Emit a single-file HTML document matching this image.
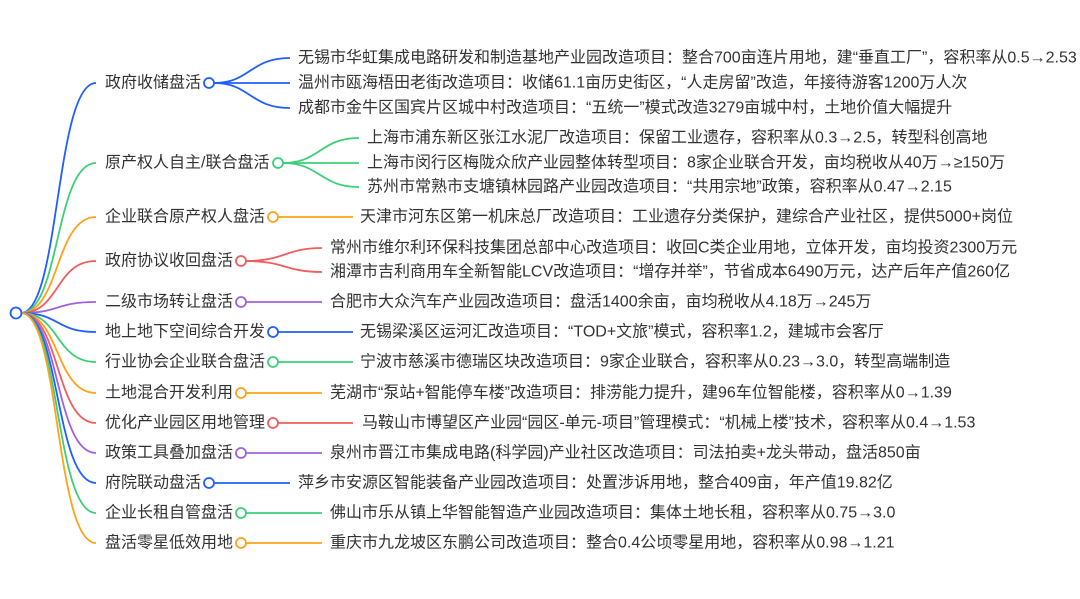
<!DOCTYPE html>
<html><head><meta charset="utf-8"><style>
html,body{margin:0;padding:0;background:#fff;width:1080px;height:599px;overflow:hidden}
svg text{font-family:"Liberation Sans","Noto Sans CJK SC",sans-serif;font-size:16px;fill:#333;dominant-baseline:central}
</style></head><body>
<svg width="1080" height="599" viewBox="0 0 1080 599" xmlns="http://www.w3.org/2000/svg">
<g fill="none" stroke-width="1.8">
<path d="M21 313 C60 313,55 83,96 83" stroke="#1f5eff"/>
<path d="M21 313 C60 313,55 163,96 163" stroke="#3ccf78"/>
<path d="M21 313 C60 313,55 217,96 217" stroke="#ffa21a"/>
<path d="M21 313 C60 313,55 261,96 261" stroke="#f05d5d"/>
<path d="M21 313 C60 313,55 302,96 302" stroke="#a061e0"/>
<path d="M21 313 C60 313,55 332,96 332" stroke="#1f5eff"/>
<path d="M21 313 C60 313,55 362,96 362" stroke="#3ccf78"/>
<path d="M21 313 C60 313,55 393,96 393" stroke="#ffa21a"/>
<path d="M21 313 C60 313,55 423,96 423" stroke="#f05d5d"/>
<path d="M21 313 C60 313,55 453,96 453" stroke="#a061e0"/>
<path d="M21 313 C60 313,55 483,96 483" stroke="#1f5eff"/>
<path d="M21 313 C60 313,55 513,96 513" stroke="#3ccf78"/>
<path d="M21 313 C60 313,55 543,96 543" stroke="#ffa21a"/>
<path d="M214 83 C250 83,250 58,290 58" stroke="#1f5eff"/>
<path d="M214 83 L290 83" stroke="#1f5eff"/>
<path d="M214 83 C250 83,250 108,290 108" stroke="#1f5eff"/>
<path d="M283 163 C320 163,320 138,359 138" stroke="#3ccf78"/>
<path d="M283 163 L359 163" stroke="#3ccf78"/>
<path d="M283 163 C320 163,320 187,359 187" stroke="#3ccf78"/>
<path d="M278 217 L353 217" stroke="#ffa21a"/>
<path d="M246 261 C285 261,285 248,322 248" stroke="#f05d5d"/>
<path d="M246 261 C285 261,285 272,322 272" stroke="#f05d5d"/>
<path d="M246 302 L322 302" stroke="#a061e0"/>
<path d="M278 332 L353 332" stroke="#1f5eff"/>
<path d="M278 362 L353 362" stroke="#3ccf78"/>
<path d="M246 393 L322 393" stroke="#ffa21a"/>
<path d="M278 423 L353 423" stroke="#f05d5d"/>
<path d="M246 453 L322 453" stroke="#a061e0"/>
<path d="M214 483 L290 483" stroke="#1f5eff"/>
<path d="M246 513 L322 513" stroke="#3ccf78"/>
<path d="M246 543 L322 543" stroke="#ffa21a"/>
</g>
<g fill="#fff" stroke-width="1.8">
<circle cx="16" cy="313" r="5.5" stroke="#1f5eff"/>
<circle cx="209" cy="83" r="5" stroke="#1f5eff"/>
<circle cx="278" cy="163" r="5" stroke="#3ccf78"/>
<circle cx="273" cy="217" r="5" stroke="#ffa21a"/>
<circle cx="241" cy="261" r="5" stroke="#f05d5d"/>
<circle cx="241" cy="302" r="5" stroke="#a061e0"/>
<circle cx="273" cy="332" r="5" stroke="#1f5eff"/>
<circle cx="273" cy="362" r="5" stroke="#3ccf78"/>
<circle cx="241" cy="393" r="5" stroke="#ffa21a"/>
<circle cx="273" cy="423" r="5" stroke="#f05d5d"/>
<circle cx="241" cy="453" r="5" stroke="#a061e0"/>
<circle cx="209" cy="483" r="5" stroke="#1f5eff"/>
<circle cx="241" cy="513" r="5" stroke="#3ccf78"/>
<circle cx="241" cy="543" r="5" stroke="#ffa21a"/>
</g>
<g>
<text x="105" y="83">政府收储盘活</text>
<text x="105" y="163">原产权人自主/联合盘活</text>
<text x="105" y="217">企业联合原产权人盘活</text>
<text x="105" y="261">政府协议收回盘活</text>
<text x="105" y="302">二级市场转让盘活</text>
<text x="105" y="332">地上地下空间综合开发</text>
<text x="105" y="362">行业协会企业联合盘活</text>
<text x="105" y="393">土地混合开发利用</text>
<text x="105" y="423">优化产业园区用地管理</text>
<text x="105" y="453">政策工具叠加盘活</text>
<text x="105" y="483">府院联动盘活</text>
<text x="105" y="513">企业长租自管盘活</text>
<text x="105" y="543">盘活零星低效用地</text>

<text x="298" y="58">无锡市华虹集成电路研发和制造基地产业园改造项目：整合700亩连片用地，建“垂直工厂”，容积率从0.5→2.53</text>
<text x="298" y="83">温州市瓯海梧田老街改造项目：收储61.1亩历史街区，“人走房留”改造，年接待游客1200万人次</text>
<text x="298" y="108">成都市金牛区国宾片区城中村改造项目：“五统一”模式改造3279亩城中村，土地价值大幅提升</text>
<text x="367" y="138">上海市浦东新区张江水泥厂改造项目：保留工业遗存，容积率从0.3→2.5，转型科创高地</text>
<text x="367" y="163">上海市闵行区梅陇众欣产业园整体转型项目：8家企业联合开发，亩均税收从40万→≥150万</text>
<text x="367" y="187">苏州市常熟市支塘镇林园路产业园改造项目：“共用宗地”政策，容积率从0.47→2.15</text>
<text x="360" y="217">天津市河东区第一机床总厂改造项目：工业遗存分类保护，建综合产业社区，提供5000+岗位</text>
<text x="330" y="248">常州市维尔利环保科技集团总部中心改造项目：收回C类企业用地，立体开发，亩均投资2300万元</text>
<text x="330" y="272">湘潭市吉利商用车全新智能LCV改造项目：“增存并举”，节省成本6490万元，达产后年产值260亿</text>
<text x="330" y="302">合肥市大众汽车产业园改造项目：盘活1400余亩，亩均税收从4.18万→245万</text>
<text x="360" y="332">无锡梁溪区运河汇改造项目：“TOD+文旅”模式，容积率1.2，建城市会客厅</text>
<text x="360" y="362">宁波市慈溪市德瑞区块改造项目：9家企业联合，容积率从0.23→3.0，转型高端制造</text>
<text x="330" y="393">芜湖市“泵站+智能停车楼”改造项目：排涝能力提升，建96车位智能楼，容积率从0→1.39</text>
<text x="362" y="423">马鞍山市博望区产业园“园区-单元-项目”管理模式：“机械上楼”技术，容积率从0.4→1.53</text>
<text x="330" y="453">泉州市晋江市集成电路(科学园)产业社区改造项目：司法拍卖+龙头带动，盘活850亩</text>
<text x="298" y="483">萍乡市安源区智能装备产业园改造项目：处置涉诉用地，整合409亩，年产值19.82亿</text>
<text x="330" y="513">佛山市乐从镇上华智能智造产业园改造项目：集体土地长租，容积率从0.75→3.0</text>
<text x="330" y="543">重庆市九龙坡区东鹏公司改造项目：整合0.4公顷零星用地，容积率从0.98→1.21</text>
</g>
</svg>
</body></html>
